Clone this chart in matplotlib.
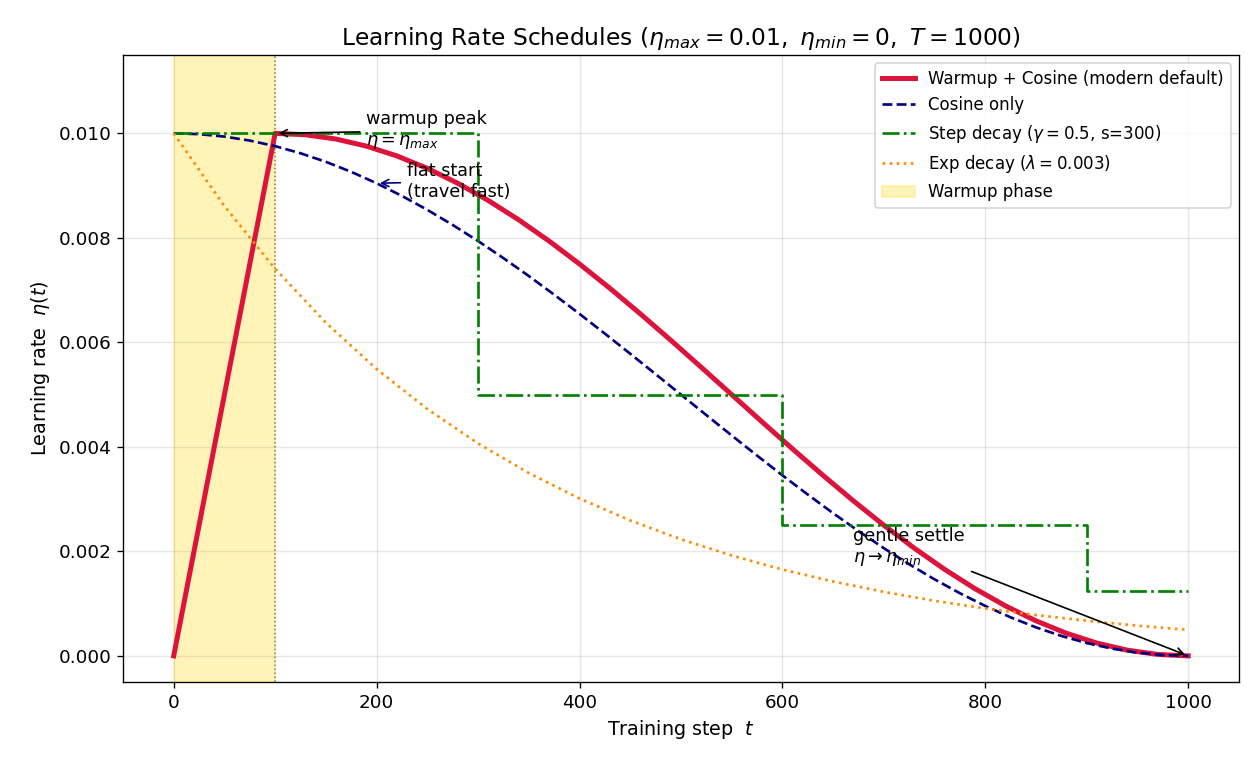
import matplotlib
matplotlib.use("Agg")
import matplotlib.pyplot as plt

# warmup + cosine
wc_steps = [0, 100, 130, 160, 190, 220, 250, 280, 310, 340, 370, 400, 430, 460, 490, 520,
            550, 580, 610, 640, 670, 700, 730, 760, 790, 820, 850, 880, 910, 940, 970, 1000]
wc_lr = [0.0, 0.01, 0.009973, 0.009891, 0.009755, 0.009568, 0.009330, 0.009045, 0.008716,
         0.008346, 0.007939, 0.0075, 0.007034, 0.006545, 0.006040, 0.005523, 0.005,
         0.004477, 0.003960, 0.003455, 0.002966, 0.0025, 0.002061, 0.001654, 0.001284,
         0.000955, 0.000670, 0.000432, 0.000245, 0.000109, 0.000027, 0.0]

# cosine only
cos_steps = list(range(0, 1001, 25))
cos_lr = [0.01, 0.009985, 0.009938, 0.009862, 0.009755, 0.009619, 0.009455, 0.009263,
          0.009045, 0.008802, 0.008536, 0.008247, 0.007939, 0.007612, 0.007270, 0.006913,
          0.006545, 0.006167, 0.005782, 0.005392, 0.005, 0.004608, 0.004218, 0.003833,
          0.003455, 0.003087, 0.002730, 0.002388, 0.002061, 0.001753, 0.001464, 0.001198,
          0.000955, 0.000737, 0.000545, 0.000381, 0.000245, 0.000138, 0.000062, 0.000015, 0.0]

# step decay
step_steps = [0, 300, 600, 900, 1000]
step_lr = [0.01, 0.005, 0.0025, 0.00125, 0.00125]

# exponential decay
exp_steps = list(range(0, 1001, 50))
exp_lr = [0.01, 0.008607, 0.007408, 0.006376, 0.005488, 0.004724, 0.004066, 0.003499,
          0.003012, 0.002592, 0.002231, 0.001921, 0.001653, 0.001423, 0.001225, 0.001054,
          0.000907, 0.000781, 0.000672, 0.000578, 0.000498]

warmup_end = 100

fig, ax = plt.subplots(figsize=(10.5, 770 / 120), dpi=120)
fig.subplots_adjust(left=0.0976, right=0.9833, top=0.9286, bottom=0.1143)

span = ax.axvspan(0, warmup_end, color="gold", alpha=0.28, label="Warmup phase")
ax.axvline(warmup_end, color="#7f7350", ls=":", lw=0.9)

l1, = ax.plot(wc_steps, wc_lr, color="crimson", lw=3, label="Warmup + Cosine (modern default)")
l2, = ax.plot(cos_steps, cos_lr, color="navy", ls="--", lw=1.6, label="Cosine only")
l3, = ax.plot(step_steps, step_lr, color="green", ls="-.", lw=1.6, drawstyle="steps-post",
              label=r"Step decay ($\gamma=0.5$, s=300)")
l4, = ax.plot(exp_steps, exp_lr, color="darkorange", ls=":", lw=1.6,
              label=r"Exp decay ($\lambda=0.003$)")

ax.annotate("warmup peak\n" + r"$\eta=\eta_{max}$", xy=(100, 0.01), xytext=(190, 0.01005),
            va="center", ha="left", fontsize=10.6,
            arrowprops=dict(arrowstyle="->", color="black", lw=1))
ax.annotate("flat start\n(travel fast)", xy=(200, 0.009045), xytext=(230, 0.00908),
            va="center", ha="left", fontsize=10.6,
            arrowprops=dict(arrowstyle="->", color="navy", lw=1))
ax.annotate("gentle settle\n" + r"$\eta\to\eta_{min}$", xy=(1000, 0.0), xytext=(670, 0.00208),
            va="center", ha="left", fontsize=10.6,
            arrowprops=dict(arrowstyle="->", color="black", lw=1))

ax.set_xlim(-50, 1050)
ax.set_ylim(-0.0005, 0.0115)
ax.grid(True, alpha=0.3)
ax.tick_params(labelsize=11)
ax.set_xlabel(r"Training step  $t$", fontsize=11.5)
ax.set_ylabel(r"Learning rate  $\eta(t)$", fontsize=11.5)
ax.set_title(r"Learning Rate Schedules ($\eta_{max}=0.01,\ \eta_{min}=0,\ T=1000$)", fontsize=14)
ax.legend(handles=[l1, l2, l3, l4, span], loc="upper right", fontsize=10)

fig.savefig("out.png", dpi=120)
